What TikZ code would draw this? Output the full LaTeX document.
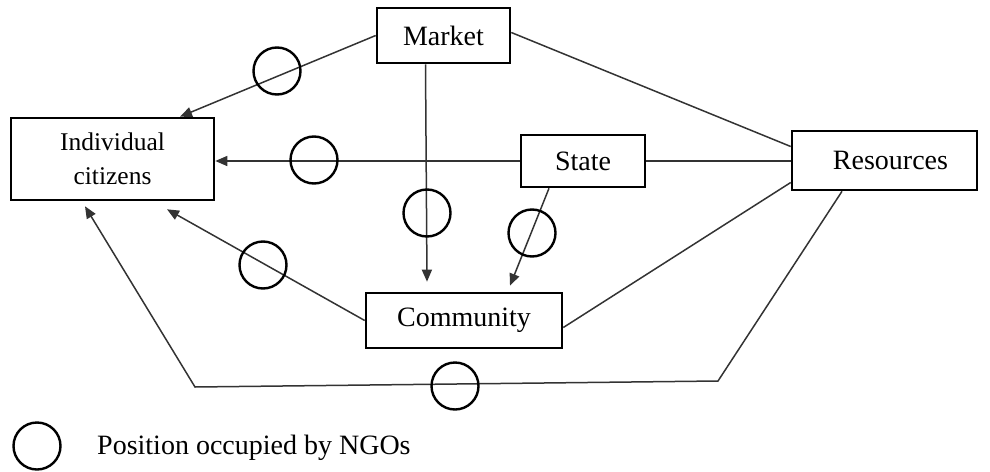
\documentclass[tikz,border=0pt]{standalone}
\usepackage{fontspec}
\setmainfont{Liberation Serif}
\usetikzlibrary{arrows.meta,calc}
\begin{document}
\begin{tikzpicture}[x=1pt,y=-1pt,
  box/.style={draw=black,line width=2.6pt,rectangle,inner sep=0pt,align=center,
    font=\fontsize{28}{33}\selectfont,text=black},
  conn/.style={draw=black!80,line width=1.5pt},
  arr/.style={conn,-{Triangle[length=12pt,width=10pt]}},
  ngo/.style={draw=black,line width=2.4pt,circle,minimum size=47pt,inner sep=0pt}]
\useasboundingbox (0,0) rectangle (990,471);
% boxes
\node[box,minimum width=133pt,minimum height=55pt] (mkt) at (443.5,35.5) {Market};
\node[box,minimum width=203pt,minimum height=82pt,font=\fontsize{25.5}{34}\selectfont] (ind) at (112.5,159) {Individual\\citizens};
\node[box,minimum width=124pt,minimum height=52pt] (st) at (583,161) {State};
\node[box,minimum width=185pt,minimum height=59pt] (res) at (884.5,160.5) {\hspace*{12pt}Resources};
\node[box,minimum width=196pt,minimum height=55pt] (com) at (464,320.5) {Community};
% corners of the bottom path
\coordinate (br) at (718,381);
\coordinate (bl) at (195,387);
% connectors
\draw[arr] (mkt.west) -- ($(ind.north)+(67.5,0)$);
\draw[arr] (st.west) -- (st.west -| ind.east);
\draw[arr] ($(mkt.south)+(-18,0)$) -- ($(com.north)+(-37,-10)$);
\draw[arr] ($(st.south)+(-34,0)$) -- ($(com.north)+(46,-6)$);
\draw[arr] (com.west) -- ($(ind.south)+(54.5,8)$);
\draw[arr] ($(res.south)+(-42.5,0)$) -- (br) -- (bl) -- ($(ind.south)+(-27.5,5)$);
\draw[conn] ($(mkt.east)+(0,-3)$) -- ($(res.west)+(0,-14)$);
\draw[conn] (st.east) -- (st.east -| res.west);
\draw[conn] ($(com.east)+(0,7)$) -- ($(res.west)+(0,22)$);
% NGO positions
\node[ngo] (c1) at (277,71) {};
\node[ngo] (c2) at (314,160) {};
\node[ngo] (c3) at (427,213) {};
\node[ngo] (c4) at (532,233) {};
\node[ngo] (c5) at (263,265) {};
\node[ngo] (c6) at (455,386) {};
% legend
\node[ngo] (lg) at (37,446) {};
\node[anchor=west,inner sep=0pt,font=\fontsize{28}{33}\selectfont,text=black] (lgt) at (97,448) {Position occupied by NGOs};
\end{tikzpicture}
\end{document}
